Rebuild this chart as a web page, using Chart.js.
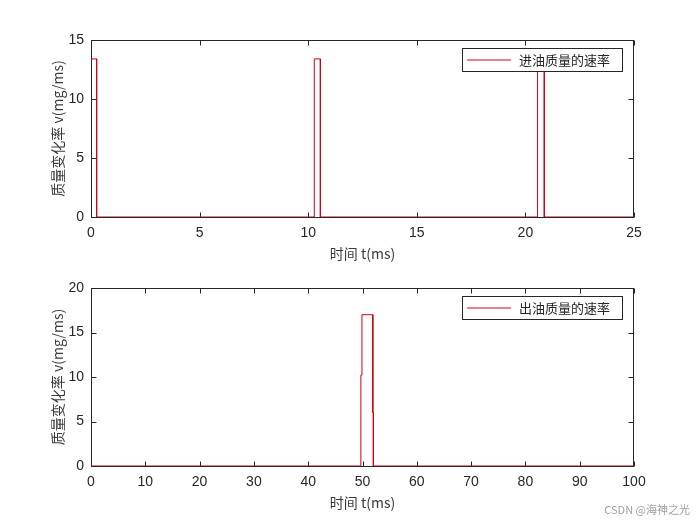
<!DOCTYPE html>
<html>
<head>
<meta charset="utf-8">
<script src="https://cdn.jsdelivr.net/npm/chart.js@4"></script>
<style>
  body { margin: 0; background: #fff; }
  #wrap { position: relative; width: 700px; height: 525px; }
  #top { position: absolute; left: 0; top: 0; }
  #bottom { position: absolute; left: 0; top: 262px; }
</style>
</head>
<body>
<div id="wrap">
  <div id="top" style="width:700px;height:262px"><canvas id="chartIn"></canvas></div>
  <div id="bottom" style="width:700px;height:263px"><canvas id="chartOut"></canvas></div>
</div>
<script>
// 进油 (top) – time in ms, rate in mg/ms
const inTime = [0, 0.26, 0.26, 10.28, 10.28, 10.56, 10.56, 20.56, 20.56, 20.87, 20.87, 25];
const inRate = [13.4, 13.4, 0, 0, 13.4, 13.4, 0, 0, 13.4, 13.4, 0, 0];
// 出油 (bottom)
const outTime = [0, 49.7, 49.7, 49.9, 49.9, 51.9, 51.9, 52.0, 52.0, 100];
const outRate = [0, 0, 10.2, 10.2, 17.0, 17.0, 6.0, 6.0, 0, 0];

const inLabel = "进油质量的速率";
const outLabel = "出油质量的速率";
const xTitle = "时间 t(ms)";
const yTitle = "质量变化率 v(mg/ms)";

const axisColor = "#262626";
const lineColor = "rgb(208,0,20)";
const tickFont = { family: "'Liberation Sans', Arial, sans-serif", size: 14 };

function toPoints(xs, ys) {
  return xs.map((x, i) => ({ x: x, y: ys[i] }));
}

// box, inward ticks, titles and legend, matlab style
function matlabPlugin(label, titleY, watermark) {
  return {
    id: "matlab",
    beforeDatasetsDraw(chart) {
      const ctx = chart.ctx;
      const a = chart.chartArea;
      const xs = chart.scales.x, ys = chart.scales.y;
      ctx.save();
      ctx.strokeStyle = axisColor;
      ctx.lineWidth = 1;
      const L = Math.round(a.left) + 0.5, R = Math.round(a.right) - 0.5;
      const T = Math.round(a.top) + 0.5, B = Math.round(a.bottom) + 0.5;
      ctx.strokeRect(L, T, R - L, B - T);
      ctx.beginPath();
      xs.ticks.forEach((t) => {
        const px = Math.round(xs.getPixelForValue(t.value)) + 0.5;
        ctx.moveTo(px, B); ctx.lineTo(px, B - 5);
        ctx.moveTo(px, T); ctx.lineTo(px, T + 5);
      });
      ys.ticks.forEach((t) => {
        const py = Math.round(ys.getPixelForValue(t.value)) + 0.5;
        ctx.moveTo(L, py); ctx.lineTo(L + 5, py);
        ctx.moveTo(R, py); ctx.lineTo(R - 5, py);
      });
      ctx.stroke();
      ctx.restore();
    },
    afterDatasetsDraw(chart) {
      const ctx = chart.ctx;
      const a = chart.chartArea;
      ctx.save();
      ctx.lineWidth = 1;
      ctx.strokeStyle = axisColor;

      // legend
      const bx = 462.5, by = Math.round(a.top) + 8.5, bw = 160, bh = 23;
      ctx.fillStyle = "#fff";
      ctx.fillRect(bx, by, bw, bh);
      ctx.strokeRect(bx, by, bw, bh);
      ctx.strokeStyle = lineColor;
      ctx.beginPath();
      ctx.moveTo(467, by + bh / 2); ctx.lineTo(511, by + bh / 2);
      ctx.stroke();
      ctx.fillStyle = axisColor;
      ctx.font = "13px 'Noto Sans CJK SC', sans-serif";
      ctx.textBaseline = "middle";
      ctx.textAlign = "left";
      ctx.fillText(label, 519, by + bh / 2);

      // axis titles
      ctx.font = "14px 'Noto Sans CJK SC', sans-serif";
      ctx.fillStyle = "#3a3a3a";
      ctx.textAlign = "center";
      ctx.fillText(xTitle, (a.left + a.right) / 2, titleY);
      ctx.save();
      ctx.translate(58, (a.top + a.bottom) / 2);
      ctx.rotate(-Math.PI / 2);
      ctx.fillText(yTitle, 0, 0);
      ctx.restore();

      if (watermark) {
        ctx.font = "11px 'Noto Sans CJK SC', sans-serif";
        ctx.fillStyle = "#a0a0a0";
        ctx.textAlign = "right";
        ctx.fillText(watermark, 690, chart.height - 15);
      }
      ctx.restore();
    }
  };
}

function makeChart(id, xs, ys, label, xMax, xStep, yMax, top, xAxisH, titleY, watermark) {
  return new Chart(document.getElementById(id), {
    type: "line",
    data: {
      datasets: [{
        label: label,
        data: toPoints(xs, ys),
        borderColor: lineColor,
        borderWidth: 1,
        pointRadius: 0,
        tension: 0,
        fill: false
      }]
    },
    options: {
      responsive: true,
      maintainAspectRatio: false,
      animation: false,
      events: [],
      layout: { autoPadding: false, padding: { left: 0, right: 66, top: top, bottom: 0 } },
      plugins: { legend: { display: false }, tooltip: { enabled: false } },
      scales: {
        x: {
          type: "linear",
          min: 0, max: xMax,
          grid: { display: false, drawTicks: false },
          border: { display: false },
          ticks: { stepSize: xStep, color: axisColor, font: tickFont, padding: 8, maxRotation: 0 },
          afterFit: (s) => { s.height = xAxisH; }
        },
        y: {
          min: 0, max: yMax,
          grid: { display: false, drawTicks: false },
          border: { display: false },
          ticks: { stepSize: 5, color: axisColor, font: tickFont, padding: 7 },
          afterFit: (s) => { s.width = 91; }
        }
      }
    },
    plugins: [matlabPlugin(label, titleY, watermark)]
  });
}

makeChart("chartIn", inTime, inRate, inLabel, 25, 5, 15, 40, 45, 254, null);
makeChart("chartOut", outTime, outRate, outLabel, 100, 10, 20, 26, 59, 241, "CSDN @海神之光");
</script>
</body>
</html>
